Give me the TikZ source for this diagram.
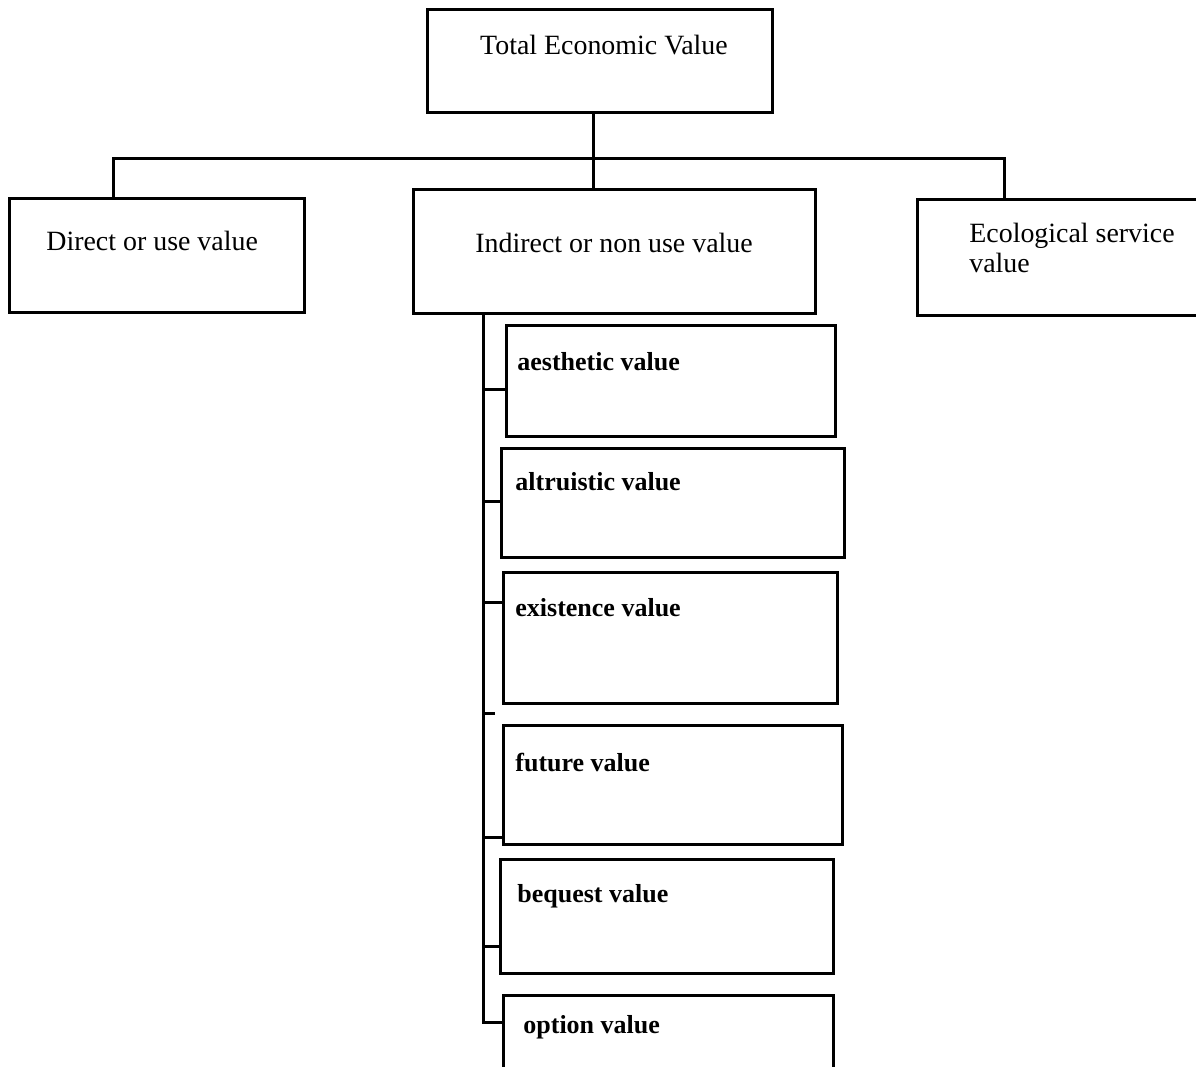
\documentclass[tikz,border=0pt]{standalone}
\usepackage{fontspec}
\setmainfont{Liberation Serif}
\usetikzlibrary{calc, fit, positioning}
\newlength\pxunit
\setlength\pxunit{0.5pt}

\begin{document}
\begin{tikzpicture}[
  x=\pxunit, y=-\pxunit,
  box/.style={draw, line width=1.5pt, inner sep=0pt},
  head/.style={font=\fontsize{13.95}{15}\selectfont, inner sep=0pt},
  sub/.style={font=\fontsize{13}{15}\selectfont\bfseries, inner sep=0pt, anchor=base west},
  link/.style={line width=1.5pt}
]
  \clip (0,0) rectangle (1196,1067);
  \fill[white] (0,0) rectangle (1196,1067);

  \node[box, fit={(427,9) (772,112)}] (tev) {};
  \node[box, fit={(9,198) (304,312)}] (dir) {};
  \node[box, fit={(413,189) (815,313)}] (ind) {};
  \node[box, fit={(917,199) (1240,315)}] (eco) {};

  \node[box, fit={(506,325) (835,436)}] (aes) {};
  \node[box, fit={(501,448) (844,557)}] (alt) {};
  \node[box, fit={(503,572) (837,703)}] (exi) {};
  \node[box, fit={(503,725) (842,844)}] (fut) {};
  \node[box, fit={(500,859) (833,973)}] (beq) {};
  \node[box, fit={(503,995) (833,1120)}] (opt) {};

  \node[head, anchor=base] (tevT) at (604,54) {Total Economic Value};
  \node[head, anchor=base west] (dirT) at (46,250) {Direct or use value};
  \node[head, anchor=base west] (indT) at (475,252) {Indirect or non use value};
  \node[head, anchor=base west, align=left] (ecoT) at (969,272) {Ecological service\\value};

  \node[sub] (aesT) at (517,370) {aesthetic value};
  \node[sub] (altT) at (515,490) {altruistic value};
  \node[sub] (exiT) at (515,616) {existence value};
  \node[sub] (futT) at (515,771) {future value};
  \node[sub] (beqT) at (517,902) {bequest value};
  \node[sub] (optT) at (523,1033) {option value};

  \coordinate (hub) at (593,158);
  \coordinate (bl) at (113,158);
  \coordinate (br) at (1004,158);
  \coordinate (st) at (483,1022);
  \coordinate (stray) at (495,713);

  \draw[link] (tev.south -| hub) -- (ind.north -| hub);
  \draw[link] (dir.north -| bl) -- (bl) -- (br) -- (eco.north -| br);
  \draw[link] (ind.south -| st) -- (st) -- (opt.west |- st);
  \draw[link] (st |- 0,389) -- (aes.west |- 0,389);
  \draw[link] (st |- 0,501) -- (alt.west |- 0,501);
  \draw[link] (st |- 0,602) -- (exi.west |- 0,602);
  \draw[link] (st |- stray) -- (stray);
  \draw[link] (st |- 0,837) -- (fut.west |- 0,837);
  \draw[link] (st |- 0,946) -- (beq.west |- 0,946);
\end{tikzpicture}
\end{document}
